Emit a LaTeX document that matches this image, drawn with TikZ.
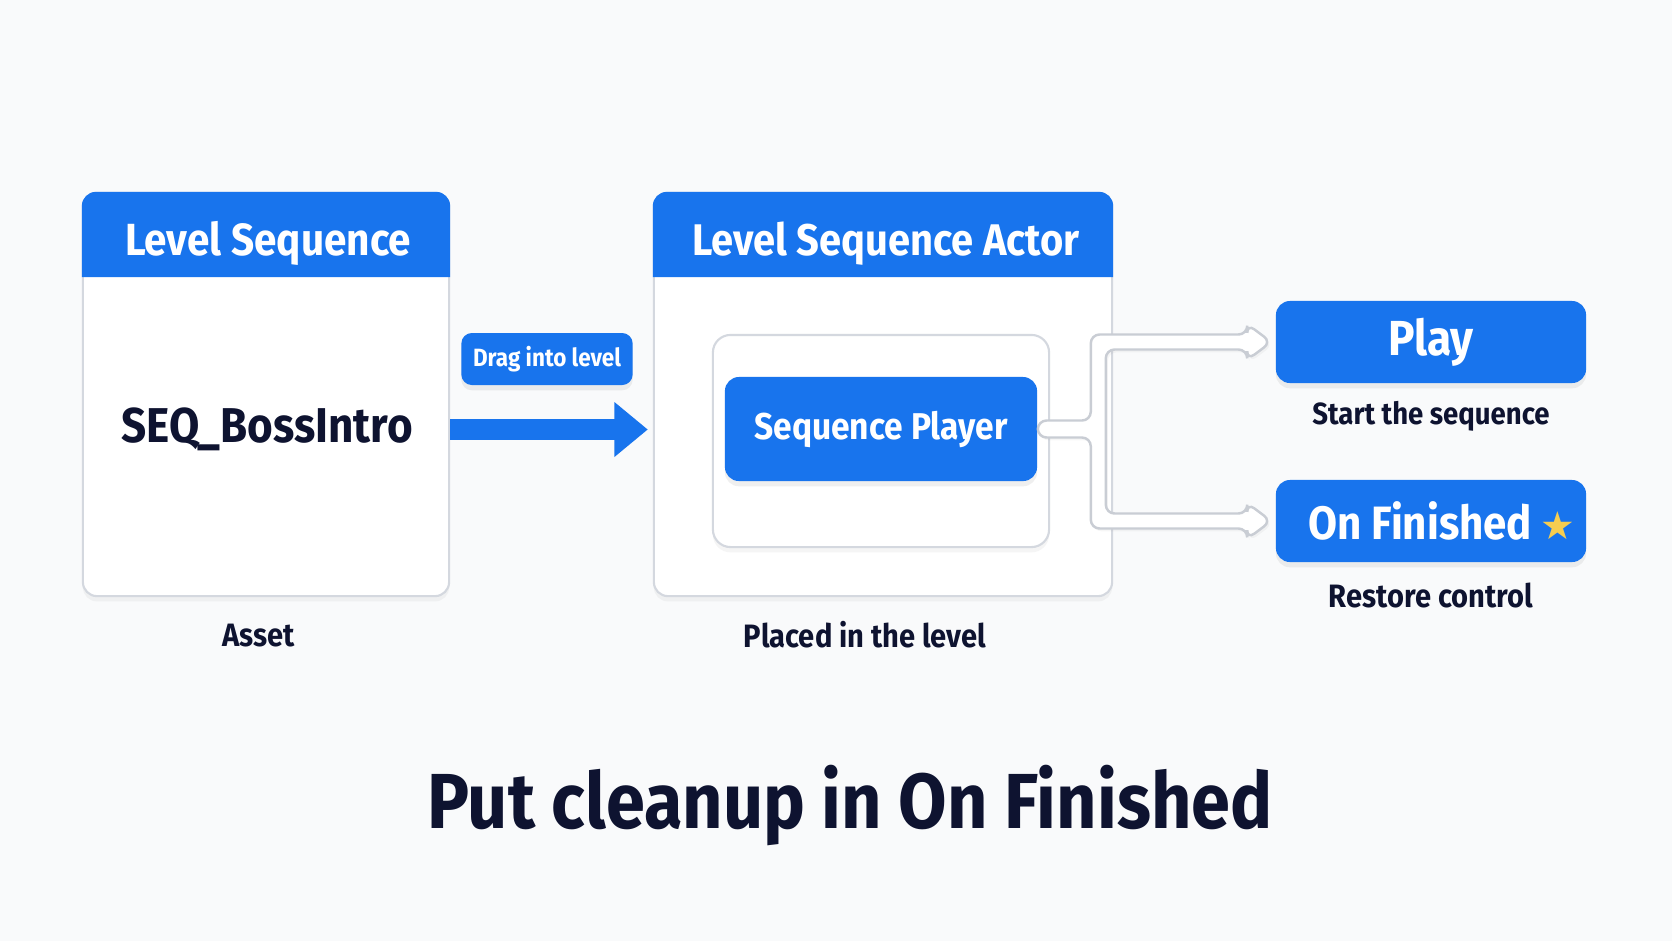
\documentclass[tikz,border=0pt]{standalone}
\usepackage{fontspec}
\setmainfont{Fira Sans}[FakeStretch=0.9]
\newfontfamily\symfont{DejaVu Sans}
\usetikzlibrary{positioning,calc,shadows,arrows.meta}
\definecolor{cblue}{RGB}{24,116,237}
\definecolor{cnavy}{RGB}{14,19,48}
\definecolor{cline}{RGB}{212,216,223}
\definecolor{cback}{RGB}{249,250,251}
\definecolor{cstar}{RGB}{246,205,80}
\tikzset{panel/.style={draw=cline,line width=0.6pt,fill=white,rounded corners=4pt,
           drop shadow={opacity=0.08,shadow xshift=0pt,shadow yshift=-1.5pt}},
         bluebox/.style={fill=cblue,rounded corners=4pt,text=white,font=\bfseries,
           drop shadow={opacity=0.12,shadow xshift=0pt,shadow yshift=-1.5pt}},
         caption/.style={text=cnavy,font=\bfseries\fontsize{9.2}{11}\selectfont}}
\tikzset{fork/.style={draw=cline!95!black,line width=0.7pt,fill=white,rounded corners=2.5pt,
           drop shadow={opacity=0.07,shadow xshift=0.6pt,shadow yshift=-0.8pt}},
         bigarrow/.style={cblue,line width=6pt,-{Triangle[length=9.5pt,width=15pt]}}}
\begin{document}
\begin{tikzpicture}[x=0.01cm,y=-0.01cm]
    \fill[cback] (0,0) rectangle (1672,941);
    \useasboundingbox (0,0) rectangle (1672,941);
    % panels
    \node[panel,minimum width=3.66cm,minimum height=4.03cm] (lseq) at (266,394.5) {};
    \node[panel,minimum width=4.58cm,minimum height=4.03cm] (mseq) at (883,394.5) {};
    \fill[cblue,rounded corners=4pt] (lseq.west |- 0,277) -- (lseq.north west) -- (lseq.north east) [sharp corners] -- (lseq.east |- 0,277) -- cycle;
    \fill[cblue,rounded corners=4pt] (mseq.west |- 0,277) -- (mseq.north west) -- (mseq.north east) [sharp corners] -- (mseq.east |- 0,277) -- cycle;
    \node[text=white,font=\bfseries\fontsize{12.8}{15}\selectfont] (lhead) at ($(lseq.north)+(2,52)$) {Level Sequence};
    \node[text=white,font=\bfseries\fontsize{12.6}{15}\selectfont] (mhead) at ($(mseq.north)+(3,52)$) {Level Sequence Actor};
    \node[text=cnavy,font=\bfseries\fontsize{13.9}{16}\selectfont] (asset) at ($(lseq.center)+(1,35)$) {SEQ\_BossIntro};
    \node[caption] (lcap) at ($(lseq.south)+(-7,38)$) {Asset};
    \node[caption] (mcap) at ($(mseq.south)+(-18,37)$) {Placed in the level};
    % inner box and player
    \node[panel,rounded corners=5pt,minimum width=3.36cm,minimum height=2.12cm] (inner) at (881,441) {};
    \node[bluebox,minimum width=3.12cm,minimum height=1.04cm,font=\bfseries\fontsize{10.6}{13}\selectfont] (sp) at (881,429) {Sequence Player};
    % drag arrow
    \node[bluebox,rounded corners=3pt,minimum width=1.64cm,minimum height=0.52cm,font=\bfseries\fontsize{7.1}{9}\selectfont] (drag) at (547,359) {Drag into level};
    \coordinate (as) at ($(lseq.east)+(0,35)$);
    \coordinate (ae) at ($(mseq.west)+(-5,35)$);
    \draw[bigarrow] (as) -- (ae);
    % right side
    \node[bluebox,minimum width=3.10cm,minimum height=0.82cm,font=\bfseries\fontsize{14}{16}\selectfont] (play) at (1431,342) {Play};
    \node[bluebox,inner xsep=0pt,minimum width=3.10cm,minimum height=0.82cm,font=\bfseries\fontsize{13.3}{16}\selectfont] (onf) at (1431,521) {\hspace*{6pt}On Finished\,{\symfont\color{cstar}\fontsize{11}{12}\selectfont ★}};
    \node[caption,font=\bfseries\fontsize{8.7}{11}\selectfont] (pcap) at ($(play.south)+(0,33)$) {Start the sequence};
    \node[caption] (ocap) at ($(onf.south)+(0,33)$) {Restore control};
    % hollow fork from player
    \coordinate (ft) at ($(sp.east)+(60.5,0)$);
    \draw[fork] ($(sp.east)+(0,-8.5)$) -- ($(ft)+(-7.5,-8.5)$) -- ($(ft |- play.west)+(-7.5,-7.5)$)
        -- ($(play.west)+(-28,-7.5)$) -- ($(play.west)+(-28,-18)$) -- ($(play.west)+(-4,0)$)
        -- ($(play.west)+(-28,18)$) -- ($(play.west)+(-28,7.5)$) -- ($(ft |- play.west)+(7.5,7.5)$)
        -- ($(ft |- onf.west)+(7.5,-7.5)$) -- ($(onf.west)+(-28,-7.5)$) -- ($(onf.west)+(-28,-18)$)
        -- ($(onf.west)+(-4,0)$) -- ($(onf.west)+(-28,18)$) -- ($(onf.west)+(-28,7.5)$)
        -- ($(ft |- onf.west)+(-7.5,7.5)$) -- ($(ft)+(-7.5,8.5)$) -- ($(sp.east)+(0,8.5)$) -- cycle;
    \node[text=cnavy,font=\bfseries\fontsize{22.2}{26}\selectfont] (title) at (850,805) {Put cleanup in On Finished};
\end{tikzpicture}
\end{document}
